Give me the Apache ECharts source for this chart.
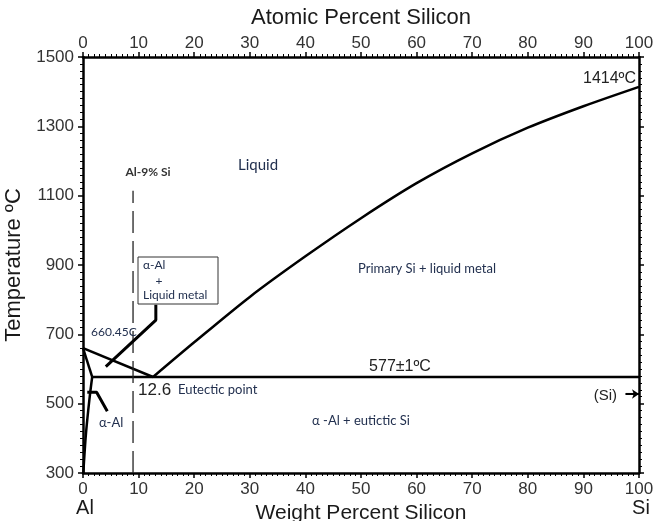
<!DOCTYPE html>
<html>
<head>
<meta charset="utf-8">
<script src="https://cdn.jsdelivr.net/npm/echarts@6/dist/echarts.min.js"></script>
<style>html,body{margin:0;padding:0;background:#fff;}#c{width:655px;height:521px;}</style>
</head>
<body>
<div id="c"></div>
<script>
// ---- data (weight % Si, temperature °C) ----
const xTicks = [0,10,20,30,40,50,60,70,80,90,100];
const yTicks = [300,500,700,900,1100,1300,1500];
const liquidusAl = [[0,660.45],[12.6,577]];
const liquidusSi = [[12.6,577],[20,677],[30,808],[40,925],[50,1035],[60,1136],[70,1222],[80,1296],[90,1358],[100,1414]];
const solidus = [[0,660.45],[1.65,577]];
const solvus = [[1.65,577],[1.14,510],[0.54,415],[0.24,347],[0.05,300]];
const eutecticLine = [[1.65,577],[100,577]];
const alloy9 = [[9,300],[9,1114]];
const pointerLiquid = [[13.1,785],[13.1,741],[4.1,607]];
const pointerAlpha = [[0.77,533],[2.45,533],[4.37,478]];
const siArrow = [[97.6,528],[100,528]];

const chart = echarts.init(document.getElementById('c'), null, {renderer:'canvas'});
const axisFont = 'Liberation Sans, Arial, sans-serif';
const noteFont = 'Lato, Open Sans, sans-serif';
const noteColor = '#22304f';

function xAxisDef(pos, name, gap, nameSize){
  return {
    type:'value', position:pos, min:0, max:100, interval:10,
    name:name, nameLocation:'middle', nameGap:gap,
    nameTextStyle:{fontFamily:axisFont, fontSize:nameSize, color:'#1a1a1a'},
    axisLine:{show:true, onZero:false, lineStyle:{color:'#000', width:2.5}},
    axisTick:{show:true, length:5, lineStyle:{color:'#000', width:1.5}},
    minorTick:{show:true, splitNumber:10, length:3, lineStyle:{color:'#000', width:1}},
    axisLabel:{fontFamily:axisFont, fontSize:17, color:'#333', margin:pos==='top'?5:8,
      formatter:function(v){return String(v);}},
    splitLine:{show:false}
  };
}
function yAxisDef(pos, labels){
  return {
    type:'value', position:pos, min:300, max:1500, interval:200,
    axisLine:{show:true, onZero:false, lineStyle:{color:'#000', width:2.5}},
    axisTick:{show:true, length:5, lineStyle:{color:'#000', width:1.5}},
    minorTick:{show:true, splitNumber:10, length:3, lineStyle:{color:'#000', width:1}},
    axisLabel:{show:labels, fontFamily:axisFont, fontSize:17, color:'#333', margin:9,
      formatter:function(v){return String(v);}},
    name: labels ? 'Temperature ºC' : '', nameLocation:'middle', nameGap:52,
    nameTextStyle:{fontFamily:axisFont, fontSize:22, color:'#1a1a1a'},
    splitLine:{show:false}
  };
}
function lineSeries(data, opts){
  return Object.assign({
    type:'line', data:data, xAxisIndex:0, yAxisIndex:0, symbol:'none', color:'#000',
    lineStyle:{color:'#000', width:2.5}, silent:true, animation:false
  }, opts||{});
}

const option = {
  animation:false,
  grid:{left:83, right:16, top:57, bottom:48, containLabel:false, outerBoundsMode:'none'},
  xAxis:[xAxisDef('bottom','Weight Percent Silicon',21,21), xAxisDef('top','Atomic Percent Silicon',28,22)],
  yAxis:[yAxisDef('left', true), yAxisDef('right', false)],
  series:[
    lineSeries(liquidusAl),
    lineSeries(liquidusSi, {smooth:0.3}),
    lineSeries(solidus),
    lineSeries(solvus, {smooth:0.4}),
    lineSeries(eutecticLine),
    lineSeries(alloy9, {lineStyle:{color:'#222', width:1.3, type:[22,8]}}),
    lineSeries(pointerLiquid, {lineStyle:{color:'#000', width:3}}),
    lineSeries(pointerAlpha, {lineStyle:{color:'#000', width:3}}),
    lineSeries(siArrow, {lineStyle:{color:'#000', width:2},
      markLine:{silent:true, symbol:['none','arrow'], symbolSize:7, label:{show:false},
        itemStyle:{color:'#000'},
        lineStyle:{color:'#000', width:2, type:'solid'},
        data:[[{coord:siArrow[0]},{coord:siArrow[1]}]]}})
  ],
  graphic:[
    {type:'rect', shape:{x:138, y:257, width:80, height:47}, style:{fill:'#fff', stroke:'#333', lineWidth:1}, z:100},
    {type:'text', x:143, y:265, style:{text:'α-Al', font:'12px '+noteFont, fill:noteColor, textVerticalAlign:'middle'}, z:101},
    {type:'text', x:159, y:281, style:{text:'+', font:'12px '+noteFont, fill:noteColor, textAlign:'center', textVerticalAlign:'middle'}, z:101},
    {type:'text', x:143, y:295, style:{text:'Liquid metal', font:'12px '+noteFont, fill:noteColor, textVerticalAlign:'middle'}, z:101},
    {type:'text', x:258, y:165, style:{text:'Liquid', font:'15px '+noteFont, fill:noteColor, textAlign:'center', textVerticalAlign:'middle'}, z:101},
    {type:'text', x:148, y:172, style:{text:'Al-9% Si', font:'bold 12px '+noteFont, fill:'#333', textAlign:'center', textVerticalAlign:'middle'}, z:101},
    {type:'text', x:427, y:269, style:{text:'Primary Si + liquid metal', font:'13px '+noteFont, fill:noteColor, textAlign:'center', textVerticalAlign:'middle'}, z:101},
    {type:'text', x:400, y:367, style:{text:'577±1ºC', font:'16px '+axisFont, fill:'#222', textAlign:'center', textVerticalAlign:'middle'}, z:101},
    {type:'text', x:361, y:421, style:{text:'α -Al + eutictic Si', font:'13px '+noteFont, fill:noteColor, textAlign:'center', textVerticalAlign:'middle'}, z:101},
    {type:'text', x:138, y:390, style:{text:'12.6', font:'17px '+axisFont, fill:'#222', textVerticalAlign:'middle'}, z:101},
    {type:'text', x:178, y:390, style:{text:'Eutectic point', font:'13px '+noteFont, fill:noteColor, textVerticalAlign:'middle'}, z:101},
    {type:'text', x:91, y:332, style:{text:'660.45C', font:'12px '+noteFont, fill:noteColor, textVerticalAlign:'middle'}, z:101},
    {type:'text', x:99, y:423, style:{text:'α-Al', font:'13px '+noteFont, fill:noteColor, textVerticalAlign:'middle'}, z:101},
    {type:'text', x:617, y:396, style:{text:'(Si)', font:'15px '+axisFont, fill:'#222', textAlign:'right', textVerticalAlign:'middle'}, z:101},
    {type:'text', x:636, y:79, style:{text:'1414ºC', font:'16px '+axisFont, fill:'#222', textAlign:'right', textVerticalAlign:'middle'}, z:101},
    {type:'text', x:85, y:508, style:{text:'Al', font:'20px '+axisFont, fill:'#1a1a1a', textAlign:'center', textVerticalAlign:'middle'}, z:101},
    {type:'text', x:641, y:508, style:{text:'Si', font:'20px '+axisFont, fill:'#1a1a1a', textAlign:'center', textVerticalAlign:'middle'}, z:101}
  ]
};
chart.setOption(option);
</script>
</body>
</html>
